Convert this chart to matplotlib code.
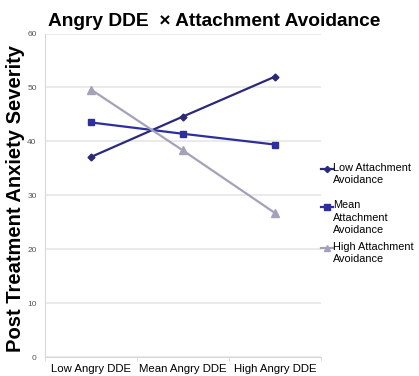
import matplotlib
matplotlib.use("Agg")
import matplotlib.pyplot as plt
from matplotlib.lines import Line2D
import numpy as np

categories = ["Low Angry DDE", "Mean Angry DDE", "High Angry DDE"]
low_avoid = [37.1, 44.6, 52.0]
mean_avoid = [43.5, 41.4, 39.4]
high_avoid = [49.6, 38.3, 26.7]
series_labels = ["Low Attachment\nAvoidance", "Mean\nAttachment\nAvoidance", "High Attachment\nAvoidance"]

plt.rcParams['font.family'] = ['Liberation Sans', 'DejaVu Sans']

W, H = 419, 376
fig = plt.figure(figsize=(W / 100, H / 100), dpi=100)
ax = fig.add_axes([45 / W, 1 - 357 / H, 276 / W, (357 - 33.5) / H])

colors = ["#2B2A78", "#2E2E9C", "#A3A2B8"]
markers = ["D", "s", "^"]
msizes = [3.5, 5, 5.5]
series = [low_avoid, mean_avoid, high_avoid]

x = np.arange(len(categories))
for vals, c, m, ms in zip(series, colors, markers, msizes):
    ax.plot(x, vals, color=c, marker=m, markersize=ms, lw=1.6)

ax.set_xlim(-0.5, 2.5)
ax.set_ylim(0, 60)
ax.set_yticks(range(0, 61, 10))
ax.set_xticks(x)
ax.set_xticklabels(categories, fontsize=8.2)
ax.set_xticks([-0.5, 0.5, 1.5, 2.5], minor=True)
ax.tick_params(axis='x', which='major', length=0, pad=5)
ax.tick_params(axis='x', which='minor', length=3, color="#D8D8D8")
ax.tick_params(axis='y', length=0, labelsize=6, labelcolor="#555555", pad=6)
ax.grid(axis='y', color="#E6E6E6", lw=1.2)
ax.set_axisbelow(True)
for s in ["top", "right"]:
    ax.spines[s].set_visible(False)
for s in ["left", "bottom"]:
    ax.spines[s].set_color("#D8D8D8")

fig.text(15.5 / W, 1 - 199 / H, "Post Treatment Anxiety Severity", fontsize=14.5, fontweight="bold",
         rotation=90, ha="center", va="center")
fig.text(214 / W, 1 - 21.5 / H, "Angry DDE  × Attachment Avoidance", fontsize=13.8, fontweight="bold",
         ha="center", va="center")

# legend drawn manually
leg_y = [169, 207, 248]
for label, c, m, ms, yy in zip(series_labels, colors, markers, msizes, leg_y):
    fy = 1 - yy / H
    fig.add_artist(Line2D([321 / W, 333 / W], [fy, fy], color=c, lw=1.6, marker=None,
                          transform=fig.transFigure))
    fig.add_artist(Line2D([327 / W], [fy], color=c, marker=m, markersize=ms * 0.9,
                          transform=fig.transFigure))
    fig.text(333 / W, fy + 6.5 / H, label, fontsize=7.8, ha="left", va="top", linespacing=1.3)

fig.savefig("out.png", dpi=100)
